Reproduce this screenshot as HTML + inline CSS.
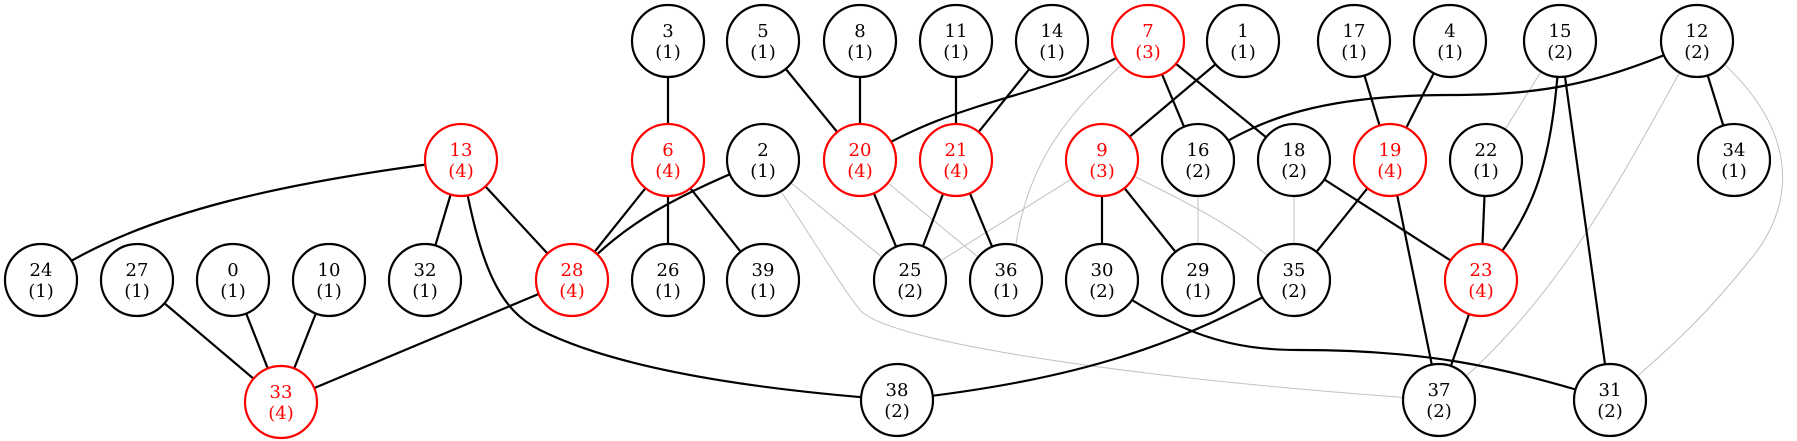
<!DOCTYPE html>
<html><head><meta charset="utf-8"><style>
html,body{margin:0;padding:0;background:#fff;}
svg{display:block;}
text{font-family:"DejaVu Serif","Liberation Serif",serif;font-size:18px;text-anchor:middle;}
.k{stroke:#000;stroke-width:2.2;fill:none;}
.g{stroke:#c0c0c0;stroke-width:1;fill:none;}
circle{fill:#fff;stroke-width:2.2;}
</style></head><body>
<svg width="1797" height="441" viewBox="0 0 1797 441">
<path class="g" d="M763,160 L910,280"/>
<path class="g" d="M782,193 C820,250 850,300 862,312 C900,345 1150,380 1439,400"/>
<path class="g" d="M860,160 L1006,280"/>
<path class="g" d="M1148,41 C1070,110 1020,160 1012,280"/>
<path class="g" d="M1102,160 L910,280"/>
<path class="g" d="M1102,160 C1190,205 1240,225 1294,280"/>
<path class="g" d="M1198,160 L1198,280"/>
<path class="g" d="M1294,160 L1294,280"/>
<path class="g" d="M1560,41 L1486,160"/>
<path class="g" d="M1697,41 C1620,180 1560,300 1439,400"/>
<path class="g" d="M1697,41 C1800,120 1800,200 1750,260 C1710,310 1680,340 1610,400"/>
<path class="k" d="M668,41 L668,160"/>
<path class="k" d="M763,41 L860,160"/>
<path class="k" d="M860,41 L860,160"/>
<path class="k" d="M956,41 L956,160"/>
<path class="k" d="M1052,41 L956,160"/>
<path class="k" d="M1148,41 C1050,100 960,95 860,160"/>
<path class="k" d="M1148,41 L1198,160"/>
<path class="k" d="M1148,41 L1294,160"/>
<path class="k" d="M1243,41 L1102,160"/>
<path class="k" d="M1354,41 L1390,160"/>
<path class="k" d="M1450,41 L1390,160"/>
<path class="k" d="M1697,41 C1600,85 1540,95 1450,95 C1330,95 1260,115 1198,160"/>
<path class="k" d="M1697,41 L1734,160"/>
<path class="k" d="M1560,41 C1552,180 1530,215 1481,280"/>
<path class="k" d="M1560,41 L1610,400"/>
<path class="k" d="M461,160 C300,180 140,210 41,280"/>
<path class="k" d="M461,160 L425,280"/>
<path class="k" d="M461,160 L572,280"/>
<path class="k" d="M461,160 C480,270 500,310 540,330 C620,370 760,390 897,400"/>
<path class="k" d="M668,160 L572,280"/>
<path class="k" d="M668,160 L668,280"/>
<path class="k" d="M668,160 L763,280"/>
<path class="k" d="M763,160 C680,195 625,220 572,280"/>
<path class="k" d="M860,160 L910,280"/>
<path class="k" d="M956,160 L910,280"/>
<path class="k" d="M956,160 L1006,280"/>
<path class="k" d="M1102,160 L1102,280"/>
<path class="k" d="M1102,160 L1198,280"/>
<path class="k" d="M1294,160 L1481,280"/>
<path class="k" d="M1390,160 L1294,280"/>
<path class="k" d="M1390,160 L1439,400"/>
<path class="k" d="M1486,160 L1481,280"/>
<path class="k" d="M137,280 L281,402"/>
<path class="k" d="M233,280 L281,402"/>
<path class="k" d="M329,280 L281,402"/>
<path class="k" d="M572,280 L281,402"/>
<path class="k" d="M1102,280 C1180,335 1230,350 1300,350 C1420,350 1500,365 1610,400"/>
<path class="k" d="M1294,280 C1180,345 1080,380 897,400"/>
<path class="k" d="M1481,280 L1439,400"/>
<g stroke="#000">
<circle cx="668" cy="41" r="36"/><circle cx="763" cy="41" r="36"/><circle cx="860" cy="41" r="36"/><circle cx="956" cy="41" r="36"/><circle cx="1052" cy="41" r="36"/><circle cx="1243" cy="41" r="36"/><circle cx="1354" cy="41" r="36"/><circle cx="1450" cy="41" r="36"/><circle cx="1560" cy="41" r="36"/><circle cx="1697" cy="41" r="36"/>
<circle cx="763" cy="160" r="36"/><circle cx="1198" cy="160" r="36"/><circle cx="1294" cy="160" r="36"/><circle cx="1486" cy="160" r="36"/><circle cx="1734" cy="160" r="36"/>
<circle cx="41" cy="280" r="36"/><circle cx="137" cy="280" r="36"/><circle cx="233" cy="280" r="36"/><circle cx="329" cy="280" r="36"/><circle cx="425" cy="280" r="36"/><circle cx="668" cy="280" r="36"/><circle cx="763" cy="280" r="36"/><circle cx="910" cy="280" r="36"/><circle cx="1006" cy="280" r="36"/><circle cx="1102" cy="280" r="36"/><circle cx="1198" cy="280" r="36"/><circle cx="1294" cy="280" r="36"/>
<circle cx="897" cy="400" r="36"/><circle cx="1439" cy="400" r="36"/><circle cx="1610" cy="400" r="36"/>
</g>
<g stroke="#f00">
<circle cx="1148" cy="41" r="36"/><circle cx="461" cy="160" r="36"/><circle cx="668" cy="160" r="36"/><circle cx="860" cy="160" r="36"/><circle cx="956" cy="160" r="36"/><circle cx="1102" cy="160" r="36"/><circle cx="1390" cy="160" r="36"/><circle cx="572" cy="280" r="36"/><circle cx="1481" cy="280" r="36"/><circle cx="281" cy="402" r="36"/>
</g>
<g fill="#000">
<text x="668" y="37">3</text><text x="668" y="58">(1)</text>
<text x="763" y="37">5</text><text x="763" y="58">(1)</text>
<text x="860" y="37">8</text><text x="860" y="58">(1)</text>
<text x="956" y="37">11</text><text x="956" y="58">(1)</text>
<text x="1052" y="37">14</text><text x="1052" y="58">(1)</text>
<text x="1243" y="37">1</text><text x="1243" y="58">(1)</text>
<text x="1354" y="37">17</text><text x="1354" y="58">(1)</text>
<text x="1450" y="37">4</text><text x="1450" y="58">(1)</text>
<text x="1560" y="37">15</text><text x="1560" y="58">(2)</text>
<text x="1697" y="37">12</text><text x="1697" y="58">(2)</text>
<text x="763" y="156">2</text><text x="763" y="177">(1)</text>
<text x="1198" y="156">16</text><text x="1198" y="177">(2)</text>
<text x="1294" y="156">18</text><text x="1294" y="177">(2)</text>
<text x="1486" y="156">22</text><text x="1486" y="177">(1)</text>
<text x="1734" y="156">34</text><text x="1734" y="177">(1)</text>
<text x="41" y="276">24</text><text x="41" y="297">(1)</text>
<text x="137" y="276">27</text><text x="137" y="297">(1)</text>
<text x="233" y="276">0</text><text x="233" y="297">(1)</text>
<text x="329" y="276">10</text><text x="329" y="297">(1)</text>
<text x="425" y="276">32</text><text x="425" y="297">(1)</text>
<text x="668" y="276">26</text><text x="668" y="297">(1)</text>
<text x="763" y="276">39</text><text x="763" y="297">(1)</text>
<text x="910" y="276">25</text><text x="910" y="297">(2)</text>
<text x="1006" y="276">36</text><text x="1006" y="297">(1)</text>
<text x="1102" y="276">30</text><text x="1102" y="297">(2)</text>
<text x="1198" y="276">29</text><text x="1198" y="297">(1)</text>
<text x="1294" y="276">35</text><text x="1294" y="297">(2)</text>
<text x="897" y="396">38</text><text x="897" y="417">(2)</text>
<text x="1439" y="396">37</text><text x="1439" y="417">(2)</text>
<text x="1610" y="396">31</text><text x="1610" y="417">(2)</text>
</g>
<g fill="#f00">
<text x="1148" y="37">7</text><text x="1148" y="58">(3)</text>
<text x="461" y="156">13</text><text x="461" y="177">(4)</text>
<text x="668" y="156">6</text><text x="668" y="177">(4)</text>
<text x="860" y="156">20</text><text x="860" y="177">(4)</text>
<text x="956" y="156">21</text><text x="956" y="177">(4)</text>
<text x="1102" y="156">9</text><text x="1102" y="177">(3)</text>
<text x="1390" y="156">19</text><text x="1390" y="177">(4)</text>
<text x="572" y="276">28</text><text x="572" y="297">(4)</text>
<text x="1481" y="276">23</text><text x="1481" y="297">(4)</text>
<text x="281" y="398">33</text><text x="281" y="419">(4)</text>
</g>
</svg>
</body></html>
